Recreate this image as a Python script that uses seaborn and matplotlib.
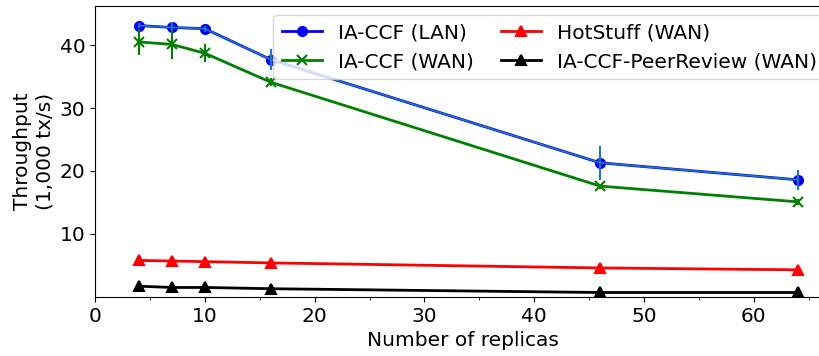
import numpy as np
import pandas as pd
import seaborn as sns
import matplotlib
matplotlib.use("Agg")
import matplotlib.pyplot as plt
from matplotlib.ticker import MultipleLocator

# replicas and throughput (1,000 tx/s)
replicas = [4, 7, 10, 16, 46, 64]
lan = [43.1, 42.8, 42.6, 37.7, 21.3, 18.6]
lan_err = [0.4, 0.8, 0.5, 1.7, 2.7, 1.6]
wan = [40.5, 40.1, 38.7, 34.1, 17.6, 15.1]
wan_err = [2.1, 2.3, 1.4, 0.6, 0.4, 0.5]
hotstuff = [5.8, 5.7, 5.6, 5.4, 4.6, 4.3]
peerreview = [1.7, 1.5, 1.5, 1.3, 0.7, 0.7]

names = ["IA-CCF (LAN)", "IA-CCF (WAN)", "HotStuff (WAN)", "IA-CCF-PeerReview (WAN)"]
colors = ["blue", "green", "red", "black"]
markers = ["o", "x", "^", "^"]

df = pd.DataFrame({
    "replicas": replicas * 4,
    "tput": lan + wan + hotstuff + peerreview,
    "system": [n for n in names for _ in replicas],
})

plt.rcParams["font.family"] = ["DejaVu Sans"]
fig, ax = plt.subplots(figsize=(8.2, 3.56), dpi=100)
# the original is cropped on the right: no right spine visible
fig.subplots_adjust(left=0.116, right=1.013, bottom=0.166, top=0.983)

for name, c, m in zip(names, colors, markers):
    sub = df[df["system"] == name]
    sns.lineplot(data=sub, x="replicas", y="tput", color=c, marker=m,
                 linewidth=2, markersize=6.5, markeredgewidth=1.5,
                 markeredgecolor=c, label=name, ax=ax)

# error bars for IA-CCF runs
ax.errorbar(replicas, lan, yerr=lan_err, color="tab:blue", linewidth=1.2,
            elinewidth=1.5, fmt="-", zorder=3)
ax.errorbar(replicas, wan, yerr=wan_err, color="green", linewidth=0,
            elinewidth=1.5, fmt="none", zorder=3)

ax.set_xlim(0, 67)
ax.set_ylim(0, 46.2)
ax.set_yticks([10, 20, 30, 40])
ax.xaxis.set_minor_locator(MultipleLocator(5))
ax.tick_params(labelsize=14.5)
ax.set_xlabel("Number of replicas", fontsize=14.5)
ax.set_ylabel("Throughput\n(1,000 tx/s)", fontsize=14.5)

handles, labels = ax.get_legend_handles_labels()
ax.legend(handles[:4], labels[:4], ncol=2, fontsize=14.5, loc="upper left",
          bbox_to_anchor=(0.2425, 0.969), borderaxespad=0,
          columnspacing=1.35, handlelength=2)

fig.savefig("out.png", dpi=100)
